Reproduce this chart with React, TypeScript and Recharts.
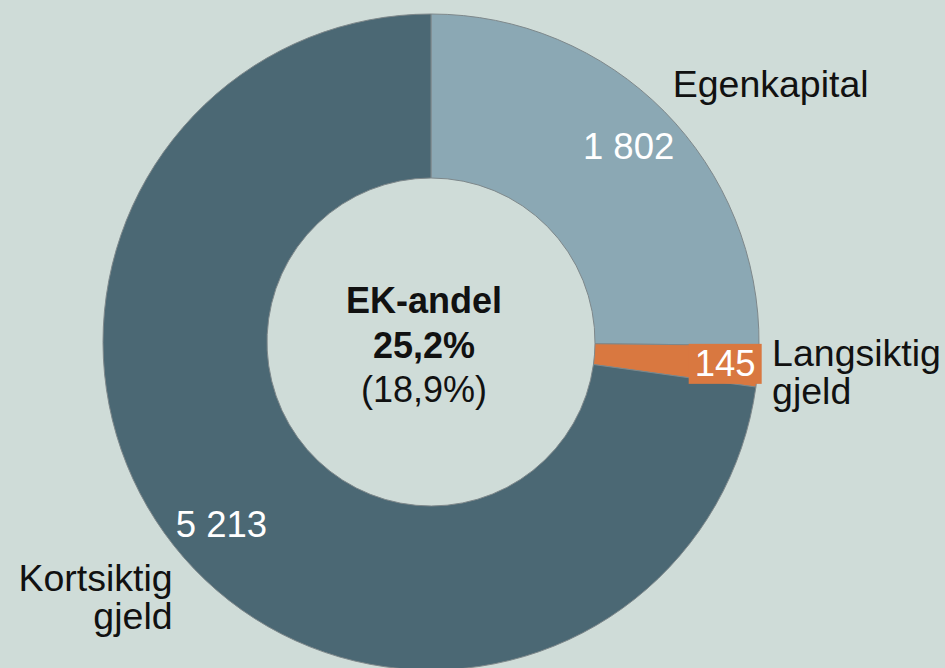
import { Pie, PieChart, Cell } from "recharts"

const categories = ["Egenkapital", "Langsiktig gjeld", "Kortsiktig gjeld"]
const values = [1802, 145, 5213]
const colors = ["#8BA8B4", "#D97840", "#4B6874"]
const previousShare = "18,9%"

const data = categories.map((name, i) => ({ name, value: values[i] }))

const RADIAN = Math.PI / 180
const FONT = "'Liberation Sans', Arial, sans-serif"

// per-slice nudges for the outer category labels (baseline of first line)
const nameNudge = [
  { dx: 0, dy: -6 },
  { dx: 2, dy: -1 },
  { dx: -2, dy: 26 },
]

const fmt = (v: number) => String(v).replace(/\B(?=(\d{3})+(?!\d))/g, " ")

const point = (cx: number, cy: number, r: number, angle: number) => ({
  x: cx + r * Math.cos(-angle * RADIAN),
  y: cy + r * Math.sin(-angle * RADIAN),
})

function centerText(cx: number, cy: number) {
  const total = values.reduce((a, b) => a + b, 0)
  const share = ((values[0] / total) * 100).toFixed(1).replace(".", ",")
  const x = cx - 7
  return (
    <g fontFamily={FONT} fontSize={36} fill="#111111">
      <text x={x} y={cy - 29} fontWeight="bold" textAnchor="middle">
        EK-andel
      </text>
      <text x={x} y={cy + 16} fontWeight="bold" textAnchor="middle">
        {share}%
      </text>
      <text x={x} y={cy + 60} textAnchor="middle">
        ({previousShare})
      </text>
    </g>
  )
}

function renderLabel(props: any) {
  const { cx, cy, midAngle, outerRadius, percent, index, name, value } = props
  const small = percent < 0.05
  const v = point(cx, cy, small ? outerRadius - 33 : outerRadius - 50, midAngle)
  const n = point(cx, cy, outerRadius + 12, midAngle)
  const right = Math.cos(-midAngle * RADIAN) >= 0
  const lines = String(name).split(" ")
  const nudge = nameNudge[index] || { dx: 0, dy: 0 }
  return (
    <g>
      {index === 0 && centerText(cx, cy)}
      {small && (
        <rect x={v.x - 36.5} y={v.y - 20} width={73} height={40} fill={colors[index]} />
      )}
      <text
        x={v.x}
        y={v.y}
        dy={12.6}
        textAnchor="middle"
        fill="#ffffff"
        fontSize={36.5}
        fontFamily={FONT}
      >
        {fmt(value)}
      </text>
      <text
        x={n.x + nudge.dx}
        y={n.y + nudge.dy}
        textAnchor={right ? "start" : "end"}
        fill="#111111"
        fontSize={37.5}
        fontFamily={FONT}
      >
        {lines.map((l, i) => (
          <tspan key={i} x={n.x + nudge.dx} dy={i === 0 ? 0 : 38}>
            {l}
          </tspan>
        ))}
      </text>
    </g>
  )
}

export default function App() {
  return (
    <div style={{ width: 945, height: 668, background: "#CFDCD8", overflow: "hidden" }}>
      <style>{`body{margin:0}`}</style>
      <PieChart width={945} height={668} margin={{ top: 0, right: 0, bottom: 0, left: 0 }}>
        <Pie
          data={data}
          dataKey="value"
          nameKey="name"
          cx={431}
          cy={342}
          innerRadius={164}
          outerRadius={328}
          startAngle={90}
          endAngle={-270}
          stroke="#7E888B"
          strokeWidth={1}
          label={renderLabel}
          labelLine={false}
          isAnimationActive={false}
        >
          {data.map((entry, index) => (
            <Cell key={index} fill={colors[index]} />
          ))}
        </Pie>
      </PieChart>
    </div>
  )
}
